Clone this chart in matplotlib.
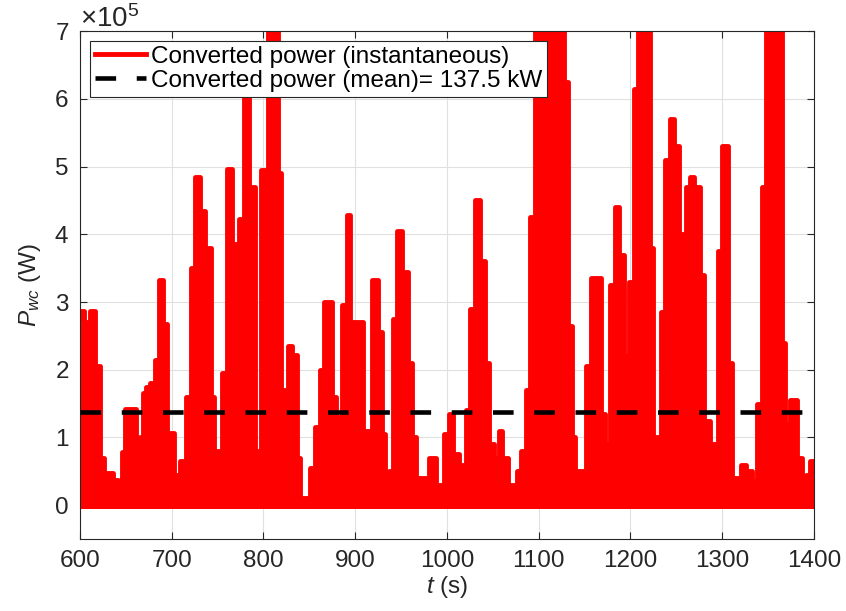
import numpy as np
import matplotlib
matplotlib.use("Agg")
import matplotlib.pyplot as plt
from matplotlib.ticker import ScalarFormatter

plt.rcParams['font.family'] = ['Liberation Sans', 'DejaVu Sans']
plt.rcParams['mathtext.fontset'] = 'custom'
plt.rcParams['mathtext.rm'] = 'Liberation Sans'
plt.rcParams['mathtext.it'] = 'Liberation Sans:italic'

# envelope of the converted power
# start time of each plateau (s) and its level (kW); last entry closes the series
t_start = [600, 604, 611, 616, 621.5, 626.5, 636, 641.5, 645.5, 649.5,
           661.5, 665.5, 668.5, 671.5, 676, 681.5, 686, 690.5, 695, 702,
           705, 709.5, 716, 720.5, 725.5, 731, 736.5, 742.5, 746, 748,
           754.5, 760.5, 765.5, 773.5, 779, 784, 790.5, 794, 797.5, 805,
           816, 819.5, 823, 825.5, 827, 831.5, 836, 840, 850.5, 856.5,
           861.5, 866.5, 875, 879.5, 885.5, 890.5, 894.5, 909, 911, 918.5,
           924.5, 929, 932, 937, 941.5, 946, 951.5, 957.5, 961.5, 966,
           977, 980, 988, 994, 997, 1002.5, 1006.5, 1013, 1020.5, 1025,
           1030.5, 1036.5, 1041.5, 1046, 1051.5, 1056.5, 1059.5, 1067, 1070, 1076,
           1080.5, 1086, 1090.5, 1095.5, 1128, 1132, 1136.5, 1140, 1147, 1149,
           1151.5, 1157, 1168, 1172.5, 1174, 1177.5, 1183.5, 1188, 1193.5, 1198.5,
           1204, 1208, 1221, 1225, 1233.5, 1238, 1243.5, 1248, 1253.5, 1257.5,
           1261, 1265.5, 1269, 1275.5, 1280.5, 1286.5, 1289.5, 1295, 1300, 1306,
           1310.5, 1313, 1320.5, 1325.5, 1327.5, 1333, 1335.5, 1338.5, 1343.5, 1347.5,
           1365, 1369, 1374, 1382, 1387.5, 1391, 1395.5, 1400]
p_level = [287, 270, 287, 205, 70, 48, 37, 25, 78, 142,
           75, 100, 165, 175, 180, 215, 333, 267, 107, 25,
           45, 65, 160, 350, 485, 435, 380, 160, 30, 80,
           195, 497, 385, 422, 625, 470, 80, 30, 495, 750,
           490, 170, 130, 30, 235, 222, 70, 10, 55, 115,
           200, 300, 160, 130, 295, 428, 270, 30, 110, 333,
           255, 105, 40, 50, 275, 405, 345, 210, 100, 40,
           35, 70, 30, 25, 105, 135, 75, 60, 140, 290,
           450, 360, 210, 90, 70, 110, 70, 10, 30, 50,
           80, 170, 425, 750, 625, 265, 100, 50, 5, 50,
           205, 335, 135, 25, 90, 325, 440, 370, 220, 330,
           615, 750, 380, 100, 285, 510, 570, 530, 400, 355,
           470, 485, 470, 340, 125, 10, 90, 375, 530, 210,
           5, 40, 60, 30, 50, 20, 35, 150, 470, 750,
           240, 120, 155, 70, 30, 45, 65, 65]

p_mean = 137.5  # kW

t = np.array(t_start)
p = np.array(p_level) * 1e3

fs = 17.5

fig = plt.figure(figsize=(8.46, 6.11), dpi=100)
ax = fig.add_axes([0.0946, 0.1178, 0.8674, 0.8312])

ax.fill_between(t, -6e3, p, step='post', color='#ff0000', lw=0, zorder=2)
ax.step(t, p, where='post', color='#ff0000', lw=3.5, zorder=2,
        label='Converted power (instantaneous)')
ax.axhline(p_mean * 1e3, color='k', lw=3.3, ls=(0, (4.5, 4.5)), zorder=3,
           label='Converted power (mean)= %.1f kW' % p_mean)

ax.set_xlim(600, 1400)
ax.set_ylim(-0.5e5, 7e5)
ax.set_xticks(np.arange(600, 1401, 100))
ax.set_yticks(np.arange(0, 7.01e5, 1e5))
fmt = ScalarFormatter(useMathText=True)
fmt.set_powerlimits((0, 0))
ax.yaxis.set_major_formatter(fmt)
ax.yaxis.get_offset_text().set_fontsize(20)
ax.yaxis.get_offset_text().set_color('0.15')

ax.grid(True, color='0.88', lw=0.8, zorder=0)
ax.set_axisbelow(True)
ax.tick_params(direction='in', length=5, width=0.8, top=True, right=True,
               labelsize=fs, colors='0.15', pad=8)
for s in ax.spines.values():
    s.set_color('0.15')
    s.set_linewidth(0.8)

ax.set_xlabel('$t$ (s)', fontsize=fs, color='0.15', labelpad=1)
ax.set_ylabel('$P_{wc}$ (W)', fontsize=fs, color='0.15', labelpad=8)

leg = ax.legend(loc='upper left', fontsize=fs, frameon=True, fancybox=False,
                borderpad=0.2, handlelength=2.1, handletextpad=0.2,
                labelspacing=0.08, borderaxespad=0.4, framealpha=1)
leg.get_frame().set_edgecolor('0.15')
leg.get_frame().set_linewidth(0.8)

fig.savefig('out.png', dpi=100)
